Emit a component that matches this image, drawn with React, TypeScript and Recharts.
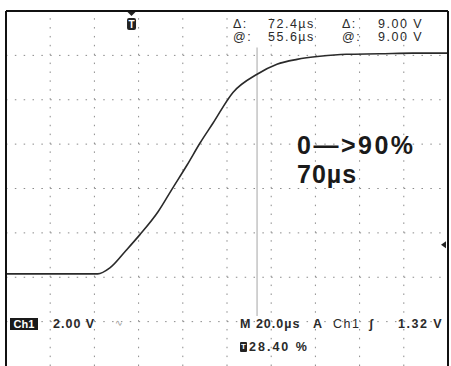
import React from 'react';
import { LineChart, Line, XAxis, YAxis, ReferenceLine, ReferenceDot } from 'recharts';

// time in µs (20 µs/div), volts (2 V/div)
const timeUs = [0, 20, 41.5, 47, 54.5, 60.5, 68.8, 75, 82, 87.8, 93.7, 102.7, 113.6, 122.6, 131.7, 142, 154, 169, 184, 200];
const volts = [0, 0, 0, 0.27, 1.08, 1.76, 2.8, 3.8, 4.92, 5.9, 6.8, 8.18, 9.0, 9.45, 9.67, 9.81, 9.9, 9.92, 9.95, 9.95];

const timeDomain = [0, 200];
const voltDomain = [-4.15, 11.85];
const majorTimes = [20, 40, 60, 80, 100, 120, 140, 160, 180];
const majorVolts = [-2.15, -0.15, 1.85, 3.85, 5.85, 7.85, 9.85];

const triggerUs = 56.8; // 28.40 %
const triggerLevel = 1.32;
const cursorUs = 113.6;
const cursorSpan = [10.2, -1.9];

const data = timeUs.map((t, i) => ({ t, v: volts[i] }));

// minor ticks on the frame, 5 per division
const subdivide = (lo: number, hi: number, div: number) => {
  const out: number[] = [];
  const step = (hi - lo) / (div * 5);
  for (let i = 1; i < div * 5; i++) out.push(+(lo + i * step).toFixed(3));
  return out;
};
const minorTimes = subdivide(timeDomain[0], timeDomain[1], 10);
const minorVolts = subdivide(voltDomain[0], voltDomain[1], 8);

const frame = { stroke: '#111', strokeWidth: 2 };
const tickStroke = { stroke: '#111', strokeWidth: 1.6 };

const TMarker = (p: any) => (
  <g>
    <polygon points={`${p.cx - 4},${p.cy + 1} ${p.cx + 4},${p.cy + 1} ${p.cx},${p.cy + 5}`} fill="#222" />
    <rect x={p.cx - 4.5} y={p.cy + 7} width={9} height={12} rx={2} fill="#222" />
    <text x={p.cx} y={p.cy + 17} textAnchor="middle" fontSize={10} fontWeight="bold" fill="#fff"
      fontFamily="Liberation Sans, Arial, sans-serif">T</text>
  </g>
);

const LevelMarker = (p: any) => (
  <polygon points={`${p.cx - 2},${p.cy - 3.5} ${p.cx - 2},${p.cy + 3.5} ${p.cx - 7},${p.cy}`} fill="#222" />
);

const Txt = ({ x, y, size = 12.5, bold = false, ls = 1.5, color = '#2a2a2a', children }: any) => (
  <div style={{
    position: 'absolute', left: x, top: y, fontSize: size, lineHeight: `${size}px`,
    fontWeight: bold ? 'bold' : 'normal', letterSpacing: ls, color, whiteSpace: 'nowrap',
  }}>{children}</div>
);

export default function App() {
  return (
    <div style={wrap}>
      <LineChart width={451} height={366} data={data} margin={{ top: 11, right: 3, bottom: 0, left: 6 }}>
        <XAxis dataKey="t" type="number" domain={timeDomain} ticks={minorTimes} allowDataOverflow
          orientation="bottom" mirror axisLine={false} tickLine={{ stroke: '#777', strokeWidth: 1.2 }} tickSize={3} tick={false} />
        <XAxis xAxisId="top" type="number" domain={timeDomain} ticks={minorTimes} allowDataOverflow
          orientation="top" mirror axisLine={frame} tickLine={tickStroke} tickSize={3} tick={false} />
        <YAxis type="number" domain={voltDomain} ticks={minorVolts} allowDataOverflow
          mirror axisLine={frame} tickLine={tickStroke} tickSize={3} tick={false} />
        <YAxis yAxisId="right" orientation="right" type="number" domain={voltDomain} ticks={minorVolts} allowDataOverflow
          mirror axisLine={frame} tickLine={tickStroke} tickSize={3} tick={false} />

        {majorTimes.map((t) => (
          <ReferenceLine key={'gx' + t} x={t} stroke="#8a8a8a" strokeWidth={1} strokeDasharray="1.5 7.38" />
        ))}
        {majorVolts.map((v) => (
          <ReferenceLine key={'gy' + v} y={v} stroke="#8a8a8a" strokeWidth={1} strokeDasharray="1.5 7.34" />
        ))}

        <ReferenceLine segment={[{ x: cursorUs, y: cursorSpan[0] }, { x: cursorUs, y: cursorSpan[1] }]}
          stroke="#b4b4b4" strokeWidth={1.2} />

        <Line type="monotone" dataKey="v" stroke="#2a2a2a" strokeWidth={1.6} dot={false} isAnimationActive={false} />

        <ReferenceDot x={triggerUs} y={voltDomain[1]} r={4} ifOverflow="visible" shape={TMarker} />
        <ReferenceDot x={timeDomain[1]} y={triggerLevel} r={4} ifOverflow="visible" shape={LevelMarker} />
      </LineChart>

      {/* cursor readouts */}
      <Txt x={233} y={18}>Δ:</Txt>
      <Txt x={268} y={18}>72.4µs</Txt>
      <Txt x={342} y={18}>Δ:</Txt>
      <Txt x={378} y={18}>9.00 V</Txt>
      <Txt x={233} y={31}>@:</Txt>
      <Txt x={268} y={31}>55.6µs</Txt>
      <Txt x={342} y={31}>@:</Txt>
      <Txt x={378} y={31}>9.00 V</Txt>

      {/* annotation */}
      <Txt x={297} y={133} size={25} bold ls={2.5} color="#1a1a1a">0—&gt;90%</Txt>
      <Txt x={297} y={162} size={25} bold ls={1} color="#1a1a1a">70µs</Txt>

      {/* status line */}
      <div style={chBox}>Ch1</div>
      <Txt x={53} y={318} bold ls={1}>2.00 V</Txt>
      <Txt x={115} y={319} size={9} ls={0} color="#999">∿</Txt>
      <Txt x={240} y={318} bold ls={1}>M 20.0µs</Txt>
      <Txt x={313} y={318} bold>A</Txt>
      <Txt x={333} y={318}>Ch1</Txt>
      <Txt x={369} y={318} bold ls={0}>ʃ</Txt>
      <Txt x={398} y={318} bold>1.32 V</Txt>
      <div style={tIcon}>T</div>
      <Txt x={249} y={341} bold ls={2}>28.40 %</Txt>
    </div>
  );
}

const wrap: React.CSSProperties = {
  position: 'absolute',
  left: 0,
  top: 0,
  width: 451,
  height: 366,
  overflow: 'hidden',
  background: '#fff',
  fontFamily: '"Liberation Sans", Arial, sans-serif',
};
const chBox: React.CSSProperties = {
  position: 'absolute',
  left: 10,
  top: 318,
  width: 28,
  height: 12,
  background: '#1a1a1a',
  color: '#fff',
  fontSize: 11,
  lineHeight: '12px',
  fontWeight: 'bold',
  textAlign: 'center',
};
const tIcon: React.CSSProperties = {
  position: 'absolute',
  left: 240,
  top: 342,
  width: 7,
  height: 10,
  borderRadius: 1,
  background: '#222',
  color: '#fff',
  fontSize: 8,
  lineHeight: '10px',
  fontWeight: 'bold',
  textAlign: 'center',
};
